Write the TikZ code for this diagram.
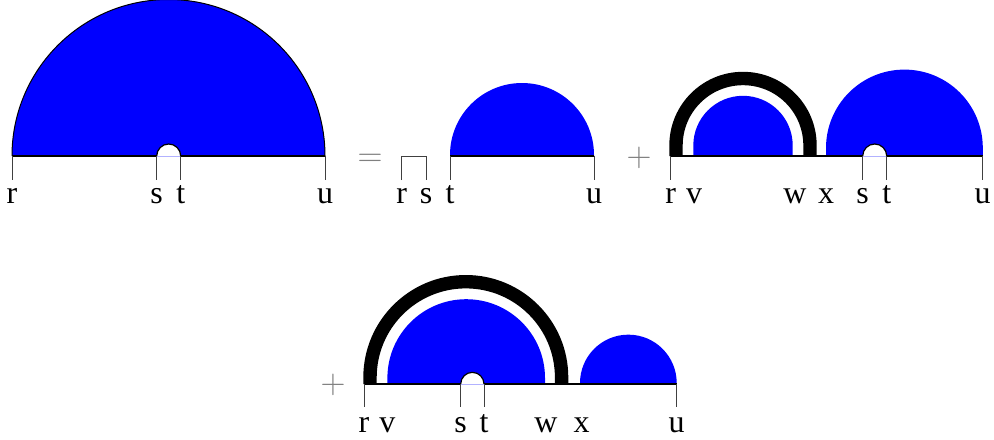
\documentclass[tikz,border=0pt]{standalone}
\usepackage{fontspec}
\setmainfont{Liberation Serif}
\usetikzlibrary{calc}

\begin{document}
\begin{tikzpicture}[x=0.5pt, y=-0.5pt,
    lbl/.style={anchor=base, inner sep=0pt, font=\fontsize{16}{19}\selectfont},
    opsign/.style={anchor=base, inner sep=0pt, text=black!50, font=\fontsize{16}{19}\selectfont},
    tickline/.style={black!75, line width=0.5pt},
    axisline/.style={black, line width=0.65pt},
    loopline/.style={black, line width=6.7pt},
    gapcap/.style={fill=white, draw=black, line width=0.6pt},
    gapbase/.style={blue!30, line width=0.5pt}]
  \useasboundingbox (0,0) rectangle (994,439);

  % panel A: full propagator r..u with a gap s..t
  \foreach \n/\x in {r/12, s/156.7, t/180.7, u/325} {
    \coordinate (A\n) at (\x,156);
    \node[lbl] (lA\n) at (\x,203) {\n};
  }
  \fill[blue] (Ar) arc (180:360:156.5) -- cycle;
  \draw[line width=0.5pt] (Ar) arc (180:360:156.5);
  \filldraw[gapcap] (As) arc (180:360:12);
  \draw[gapbase] (As) -- (At);
  \draw[axisline] (Ar) -- (As) (At) -- (Au);
  \foreach \n in {r,s,t,u} \draw[tickline] (A\n) -- ++(0,24);

  \node[opsign] (eq) at (370,166) {$=$};

  % panel B: bare pair r,s times propagator t..u
  \foreach \n/\x in {r/401.7, s/426, t/450, u/594} {
    \coordinate (B\n) at (\x,156);
    \node[lbl] (lB\n) at (\x,203) {\n};
  }
  \draw[tickline] (Br) ++(0,24) -- (Br) -- (Bs) -- ++(0,24);
  \fill[blue] (Bt) -- ++(0,-1) arc (180:360:72) -- (Bu) -- cycle;
  \draw[axisline] (Bt) -- (Bu);
  \foreach \n in {t,u} \draw[tickline] (B\n) -- ++(0,24);

  \node[opsign] (plusA) at (639,166) {$+$};

  % panel C: loop r..x, then propagator x..u with gap s..t
  \foreach \n/\x in {r/670.7, v/694, w/795, x/826, s/862.7, t/886.7, u/982.7} {
    \coordinate (C\n) at (\x,156);
    \node[lbl] (lC\n) at (\x,203) {\n};
  }
  \fill[blue] (693.3,156) -- ++(0,-10.5) arc (180:360:49.7) -- ++(0,10.5) -- cycle;
  \fill[blue] (Cx) -- ++(0,-8) arc (180:360:78.4) -- ++(0,8) -- cycle;
  \filldraw[gapcap] (Cs) arc (180:360:12);
  \draw[gapbase] (Cs) -- (Ct);
  \draw[axisline] (Cr) -- (Cs) (Ct) -- (Cu);
  \draw[loopline] (676,156) -- ++(0,-10.5) arc (180:360:67) -- ++(0,10.5);
  \foreach \n in {r,s,t,u} \draw[tickline] (C\n) -- ++(0,24);

  \node[opsign] (plusB) at (333,393) {$+$};

  % panel D: loop r..x around the gap, then propagator x..u
  \foreach \n/\x in {r/364, v/387.3, s/460.7, t/484, w/546, x/581.7, u/676.7} {
    \coordinate (D\n) at (\x,384);
    \node[lbl] (lD\n) at (\x,432.7) {\n};
  }
  \fill[blue] (387.4,384) -- ++(0,-6) arc (180:360:78.8) -- ++(0,6) -- cycle;
  \fill[blue] (580,384) -- ++(0,-1) arc (180:360:48.35) -- ++(0,1) -- cycle;
  \filldraw[gapcap] (Ds) arc (180:360:11.65);
  \draw[gapbase] (Ds) -- (Dt);
  \draw[axisline] (Dr) -- (Ds) (Dt) -- (Du);
  \draw[loopline] (370,384) -- ++(0,-6.5) arc (180:360:95.8) -- ++(0,6.5);
  \foreach \n in {r,s,t,u} \draw[tickline] (D\n) -- ++(0,23);
\end{tikzpicture}
\end{document}
